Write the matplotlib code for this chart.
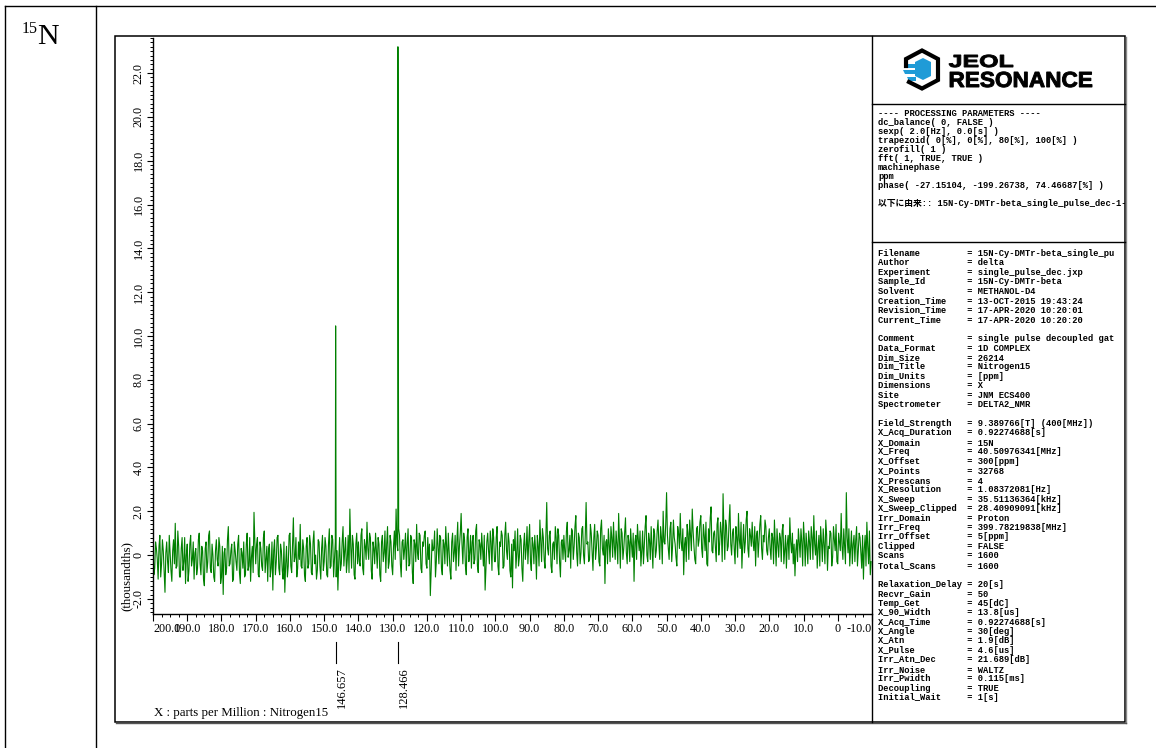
import numpy as np
import matplotlib
matplotlib.use("Agg")
import matplotlib.pyplot as plt
from matplotlib.ticker import MultipleLocator
from matplotlib.textpath import TextPath
from matplotlib.font_manager import FontProperties
from matplotlib.patches import PathPatch, Polygon, Rectangle
from matplotlib.transforms import Affine2D, blended_transform_factory

plt.rcParams['font.family'] = ['Liberation Serif']

W, H = 1156, 748

# %% Spectrum data (intensity in thousandths)
# set A sampled every 0.5 ppm from 200 ppm, set B from 199.75 ppm
noise_start = 200.0
noise_step = 0.5
noise_b_offset = 0.25

noise_a_200_170 = [0.5, -0.6, 0.3, -1.1, 0.9, -0.4, 0.2, -1.7, 0.6, -0.8,
                   0.1, -1.2, 0.7, 1.45, -0.5, 0.4, -1.0, 0.8, -0.3, -1.3,
                   0.5, -0.7, 0.9, -0.2, -1.1, 0.3, -0.6, 1.0, -0.9, 0.2,
                   -1.4, 0.6, -0.3, 1.1, -0.8, 0.0, -1.2, 0.7, -0.5, 0.4,
                   -1.0, -1.8, 0.3, -0.6, 1.3, -0.4, 0.5, -1.1, 0.2, -0.7,
                   0.9, -1.3, 0.1, 0.6, -0.9, 1.0, -0.5, -1.2, 0.4, 1.95]
noise_a_170_140 = [-0.4, 0.8, -1.0, 0.3, -0.7, 1.1, -0.2, -1.2, 0.5, -0.6,
                   -1.6, 0.7, -0.3, 0.9, -0.9, 0.2, -1.1, -1.7, 0.4, -0.5,
                   1.0, -0.8, 1.7, -0.1, -1.0, 0.6, 1.4, -0.6, 0.3, -1.2,
                   0.8, -0.4, 0.5, -0.9, 1.1, 0.0, -0.7, 0.6, -1.1, 0.9,
                   -0.3, 0.4, -1.0, 1.2, -0.5, 0.7, -0.2, -1.0, -1.6, 0.8,
                   -0.4, 1.3, 0.2, -0.8, 0.9, 2.1, -0.6, 0.5, -1.1, 1.0]
noise_a_140_110 = [0.6, -0.5, 1.2, -0.9, 0.4, 1.5, -0.2, 0.8, -1.1, 0.3,
                   1.0, -0.6, 0.5, -1.2, 0.9, 0.1, -0.8, 1.3, -0.3, 0.6,
                   -0.9, 1.1, 2.1, 0.2, 0.9, -1.0, 0.7, 0.3, -0.7, 1.2,
                   -0.4, 0.8, -1.3, 0.5, 1.4, -0.2, 0.9, -0.8, 0.4, 1.1,
                   -0.6, -0.2, -1.85, 0.7, 0.3, -1.0, 1.2, -0.4, 0.8, -0.9,
                   0.5, 1.3, -0.5, 0.2, -1.1, 1.0, 0.1, -0.7, 1.5, 0.4]
noise_a_110_80 = [1.9, -0.4, 0.7, -0.9, 1.2, 0.1, -0.6, 0.9, -0.2, 1.4,
                  -0.8, 0.5, 1.0, -0.5, -1.6, 0.6, 0.2, 1.1, -0.7, 0.8,
                  -0.3, 1.3, -0.9, 0.4, 0.9, -0.5, 1.5, -0.2, 0.6, -1.0,
                  -1.5, 0.2, -0.6, 1.2, -0.1, 0.7, -1.2, 1.0, 0.3, -0.4,
                  1.4, -0.7, 0.5, 0.9, -1.1, 0.4, 1.6, -0.3, 0.8, -0.6,
                  2.4, 0.0, 1.1, -0.8, 0.6, 1.3, -0.4, 0.9, -1.0, 0.7]
noise_a_80_50 = [0.9, -0.3, 1.5, 0.2, -0.6, 1.1, 0.4, 1.8, -0.5, 0.8,
                 0.1, 1.3, -0.4, 2.4, 0.6, -0.2, 1.0, -0.7, 1.4, 0.3,
                 0.9, -0.5, 1.6, 0.0, -1.3, 0.7, 1.2, -0.3, 0.8, 1.5,
                 -0.2, 0.5, 1.9, -0.6, 1.0, 0.3, 1.7, -0.4, 0.6, 1.2,
                 -0.1, -1.2, 0.9, 1.4, 0.2, -0.5, 1.1, 0.4, 1.8, -0.3,
                 0.7, 1.3, -0.6, 1.0, 0.2, 1.6, -0.2, 0.8, 2.0, 0.5]
noise_a_50_20 = [2.85, 0.3, 1.2, -0.3, 1.6, 0.5, -0.5, 1.0, 1.9, 0.2,
                 -0.9, 0.8, 1.4, -0.2, 0.9, 2.1, 0.4, -0.4, 1.3, 0.7,
                 1.8, -0.1, 0.9, 1.5, -0.5, 0.6, 2.2, 0.1, 1.1, -0.3,
                 1.7, 0.5, 1.0, 2.8, -0.2, 1.3, 0.4, 2.3, 0.0, 1.2,
                 -0.4, 0.8, 1.9, 0.3, -0.6, 1.4, 0.6, 2.0, -0.1, 0.9,
                 1.5, 0.2, -0.5, 1.1, 0.7, 1.8, -0.2, 0.6, 1.3, 0.0]
noise_a_20_m10 = [1.2, -0.2, 0.8, 1.6, -0.5, 0.5, 1.0, -0.3, 1.4, 0.2,
                  -0.6, 0.9, 1.7, 0.1, -0.4, -0.95, 0.7, 1.2, -0.1, 0.6,
                  1.5, -0.5, 0.4, 1.1, -0.2, 0.8, 1.8, 0.0, -0.6, 0.9,
                  1.3, -0.3, 0.5, 1.6, -0.7, 0.3, 1.0, -0.1, 0.7, 1.4,
                  -0.4, 0.6, 1.9, -0.2, 0.4, 2.85, 0.1, -0.5, 1.1, 0.5,
                  -0.3, 1.3, 0.2, 0.8, -0.6, -1.1, 0.9, 1.5, -0.4, -0.9]

noise_b_200_170 = [-0.9, 0.6, -0.2, 0.4, -1.0, 0.7, -0.8, 0.1, -0.3, 0.9,
                   -0.7, 0.2, -0.4, -0.6, 1.1, -1.0, 0.3, -0.7, 0.8, 0.0,
                   -1.2, 0.5, -0.5, 0.6, 0.1, -0.9, 0.7, -0.4, 0.4, -1.1,
                   0.3, -0.8, 0.9, -0.6, 0.5, -1.0, 0.2, -0.2, 0.8, -1.3,
                   0.4, 0.1, -0.9, 0.7, -0.5, 0.2, -1.2, 0.6, -0.3, 0.5,
                   -0.8, 0.3, -0.6, -1.0, 0.5, -0.7, 0.8, -0.1, -0.8, 0.6]
noise_b_170_140 = [0.5, -0.9, 0.6, -0.5, 0.8, -0.8, 0.4, 0.3, -1.0, 0.6,
                   0.2, -0.9, 0.8, -0.6, 0.5, -0.7, 0.6, -0.4, -1.0, 0.9,
                   -0.5, 0.4, -0.3, 0.8, -0.6, -0.2, -0.5, 0.7, -0.9, 0.4,
                   -0.6, 0.9, -0.8, 0.6, -0.4, -1.1, 0.7, -0.5, 0.3, -0.7,
                   0.8, -0.9, 0.5, -0.6, 0.9, -1.0, 0.6, 0.2, -0.3, -0.7,
                   0.6, -0.5, 0.8, -0.2, -0.8, 0.4, 0.9, -0.9, 0.5, -0.4]
noise_b_140_110 = [-0.3, 0.9, -0.6, 0.7, -0.2, 0.3, 1.0, -0.7, 0.6, -0.4,
                   0.2, 0.8, -0.9, 0.6, -0.3, 1.1, 0.5, -0.6, 0.9, -0.5,
                   0.4, -0.2, 0.5, 1.2, -0.4, 0.6, -0.2, 1.0, 0.5, -0.5,
                   0.9, -0.8, 0.7, -0.3, 0.1, 1.0, -0.6, 0.6, 0.9, -0.4,
                   0.8, 0.5, -0.7, 0.2, 1.1, -0.3, 0.4, 0.9, -0.6, 0.7,
                   -0.4, 0.4, 1.0, -0.7, 0.6, -0.3, 0.9, 0.6, -0.5, 1.0]
noise_b_110_80 = [0.5, 1.0, -0.5, 0.8, -0.3, 0.9, 0.6, -0.4, 1.1, -0.5,
                  0.7, -0.2, 0.3, 0.9, -0.6, 1.0, -0.4, 0.6, 1.2, -0.3,
                  0.8, -0.5, 0.6, 1.1, -0.6, 0.9, 0.2, 1.0, -0.7, 0.5,
                  0.7, 1.1, 0.1, -0.5, 0.9, -0.6, 0.4, -0.2, 1.3, 0.6,
                  -0.3, 0.8, -0.4, 0.2, 0.9, -0.5, 0.7, 1.2, -0.2, 1.0,
                  0.3, 0.9, -0.5, 0.5, -0.2, 0.8, 1.2, -0.3, 0.6, -0.2]
noise_b_80_50 = [0.2, 1.1, -0.1, 0.9, 1.2, -0.2, 1.3, 0.1, 1.0, -0.4,
                 1.2, 0.0, 0.9, 0.5, -0.3, 1.4, 0.2, 0.8, -0.2, 1.1,
                 -0.3, 1.2, 0.3, 0.9, 0.6, -0.4, 0.5, 1.3, -0.1, 0.4,
                 1.1, -0.4, 0.6, 1.2, -0.2, 1.0, 0.1, 0.9, -0.3, 0.5,
                 1.0, 0.6, -0.2, 0.7, 1.1, 0.2, -0.4, 1.3, 0.0, 1.0,
                 -0.2, 0.4, 1.2, -0.1, 1.1, 0.5, 1.3, -0.4, 0.6, 1.4]
noise_b_50_20 = [0.9, -0.2, 1.5, 0.4, 0.8, -0.1, 1.3, 0.3, 0.6, 1.2,
                 0.5, -0.3, 1.0, 1.6, 0.2, 1.1, -0.2, 1.2, 0.4, 1.5,
                 0.3, 1.4, 0.2, -0.4, 1.2, 1.7, 0.2, 1.0, 0.4, 1.4,
                 0.0, 1.5, -0.3, 1.1, 1.6, 0.2, 1.5, 0.5, 1.0, 0.3,
                 1.3, -0.1, 0.7, 1.5, 0.5, 0.1, 1.6, 0.3, 1.2, 0.4,
                 0.6, 1.3, 0.9, -0.1, 1.4, 0.3, 0.9, 1.6, 0.2, 0.8]
noise_b_20_m10 = [0.3, 1.0, -0.4, 0.6, 1.2, -0.1, 0.8, 1.1, -0.4, 0.9,
                  0.5, -0.2, 0.6, 1.0, 0.5, 0.2, -0.3, 0.6, 1.2, -0.5,
                  0.7, 1.0, -0.4, 0.6, 1.3, -0.2, 0.5, 1.1, 0.3, -0.5,
                  0.6, 1.2, -0.4, 0.9, 0.4, 1.1, -0.5, 1.3, 0.2, -0.3,
                  1.0, 0.2, 0.4, 1.2, -0.4, 0.8, 1.2, 0.3, -0.4, 0.9,
                  0.7, -0.5, 1.0, 0.1, 0.9, 0.3, -0.5, 0.4, 1.1, -0.3]

peak_ppm = [146.657, 128.466]
peak_height = [10.46, 23.2]
peak_labels = ["146.657", "128.466"]

x_ticks = [200, 190, 180, 170, 160, 150, 140, 130, 120, 110, 100,
           90, 80, 70, 60, 50, 40, 30, 20, 10, 0, -10]
y_ticks = [-2, 0, 2, 4, 6, 8, 10, 12, 14, 16, 18, 20, 22]

processing_lines = [
    "---- PROCESSING PARAMETERS ----",
    "dc_balance( 0, FALSE )",
    "sexp( 2.0[Hz], 0.0[s] )",
    "trapezoid( 0[%], 0[%], 80[%], 100[%] )",
    "zerofill( 1 )",
    "fft( 1, TRUE, TRUE )",
    "machinephase",
    "ppm",
    "phase( -27.15104, -199.26738, 74.46687[%] )",
    "",
    "以下に由来:: 15N-Cy-DMTr-beta_single_pulse_dec-1-1.jdf",
]

param_keys = [
    "Filename", "Author", "Experiment", "Sample_Id", "Solvent",
    "Creation_Time", "Revision_Time", "Current_Time", "",
    "Comment", "Data_Format", "Dim_Size", "Dim_Title", "Dim_Units",
    "Dimensions", "Site", "Spectrometer", "",
    "Field_Strength", "X_Acq_Duration", "X_Domain", "X_Freq", "X_Offset",
    "X_Points", "X_Prescans", "X_Resolution", "X_Sweep", "X_Sweep_Clipped",
    "Irr_Domain", "Irr_Freq", "Irr_Offset", "Clipped", "Scans",
    "Total_Scans", "",
    "Relaxation_Delay", "Recvr_Gain", "Temp_Get", "X_90_Width",
    "X_Acq_Time", "X_Angle", "X_Atn", "X_Pulse", "Irr_Atn_Dec",
    "Irr_Noise", "Irr_Pwidth", "Decoupling", "Initial_Wait",
]
param_values = [
    "15N-Cy-DMTr-beta_single_pu", "delta",
    "single_pulse_dec.jxp", "15N-Cy-DMTr-beta", "METHANOL-D4",
    "13-OCT-2015 19:43:24", "17-APR-2020 10:20:01", "17-APR-2020 10:20:20", "",
    "single pulse decoupled gat", "1D COMPLEX", "26214", "Nitrogen15",
    "[ppm]", "X", "JNM ECS400", "DELTA2_NMR", "",
    "9.389766[T] (400[MHz])", "0.92274688[s]", "15N", "40.50976341[MHz]",
    "300[ppm]", "32768", "4", "1.08372081[Hz]", "35.51136364[kHz]",
    "28.40909091[kHz]", "Proton", "399.78219838[MHz]", "5[ppm]", "FALSE",
    "1600", "1600", "",
    "20[s]", "50", "45[dC]", "13.8[us]", "0.92274688[s]", "30[deg]",
    "1.9[dB]", "4.6[us]", "21.689[dB]", "WALTZ", "0.115[ms]", "TRUE", "1[s]",
]

# %% Build spectrum
noise_a = np.concatenate([noise_a_200_170, noise_a_170_140, noise_a_140_110,
                          noise_a_110_80, noise_a_80_50, noise_a_50_20,
                          noise_a_20_m10])
noise_b = np.concatenate([noise_b_200_170, noise_b_170_140, noise_b_140_110,
                          noise_b_110_80, noise_b_80_50, noise_b_50_20,
                          noise_b_20_m10])
ppm_a = noise_start - noise_step * np.arange(len(noise_a))
ppm_b = noise_start - noise_b_offset - noise_step * np.arange(len(noise_b))
ppm = np.concatenate([ppm_a, ppm_b, peak_ppm])
intensity = np.concatenate([noise_a, noise_b, peak_height])
order = np.argsort(-ppm)
ppm, intensity = ppm[order], intensity[order]

fig = plt.figure(figsize=(W / 100, H / 100), dpi=100)


def px_axes(x0, y0, x1, y1):
    return fig.add_axes([x0 / W, 1 - y1 / H, (x1 - x0) / W, (y1 - y0) / H])


# background in pixel coordinates: page table, frame, separators
bg = px_axes(0, 0, W, H)
bg.set_xlim(0, W)
bg.set_ylim(H, 0)
bg.axis('off')
lw = 1.0
bg.plot([5, W], [6, 6], color='black', lw=lw, clip_on=False)
bg.plot([5, 5], [6, H], color='black', lw=lw, clip_on=False)
bg.plot([96, 96], [6, H], color='black', lw=lw, clip_on=False)
bg.add_patch(Rectangle((115, 36), 1010, 686, fill=False, ec='black', lw=1.1))
bg.plot([1126, 1126], [37, 723], color='#8a8a8a', lw=1.0)
bg.plot([116, 1126], [723, 723], color='#555555', lw=1.0)
bg.plot([872, 872], [36, 722], color='black', lw=1.0)
bg.plot([872, 1125], [104, 104], color='black', lw=1.0)
bg.plot([872, 1125], [242, 242], color='black', lw=1.0)

bg.text(22, 33, "15", fontsize=11.5, ha='left', va='baseline')
bg.text(37.5, 43.5, "N", fontsize=21.5, ha='left', va='baseline')
bg.text(154, 713, "X : parts per Million : Nitrogen15", fontsize=9.3,
        ha='left', va='center')
bg.text(127, 576, "(thousandths)", fontsize=9.3, rotation=90,
        ha='center', va='center')

# %% Spectrum axes
ax = px_axes(153, 38, 872, 614)
ax.patch.set_alpha(0)
ax.plot(ppm, intensity, color='#008000', lw=0.8)
ax.set_xlim(200, -10)
ax.set_ylim(-2.69, 23.6)
for side in ('top', 'right'):
    ax.spines[side].set_visible(False)
for side in ('left', 'bottom'):
    ax.spines[side].set_linewidth(1.0)

ax.set_xticks(x_ticks)
xlabels = ax.set_xticklabels(["0" if t == 0 else f"{t:.1f}" for t in x_ticks])
xlabels[0].set_horizontalalignment('left')
xlabels[-1].set_horizontalalignment('right')
ax.xaxis.set_minor_locator(MultipleLocator(2.5))

ax.set_yticks(y_ticks)
ylabels = ax.set_yticklabels(["0" if t == 0 else f"{t:.1f}" for t in y_ticks],
                             rotation=90)
for lbl in ylabels:
    lbl.set_verticalalignment('center')
ax.yaxis.set_minor_locator(MultipleLocator(0.2))

ax.tick_params(which='major', direction='out', length=4, width=0.8,
               labelsize=8.7)
ax.tick_params(which='minor', direction='out', length=2, width=0.7)
ax.tick_params(axis='x', which='major', length=5, pad=1.5)
ax.tick_params(axis='y', which='major', pad=2)

# peak annotations below the axis
trans = blended_transform_factory(ax.transData, bg.transData)
for p, lab in zip(peak_ppm, peak_labels):
    ax.plot([p, p], [642, 663], color='black', lw=0.8, transform=trans,
            clip_on=False)
    ax.text(p, 667, lab, transform=trans, rotation=90, ha='left', va='top',
            fontsize=9, clip_on=False)

# %% Info panel
info = px_axes(872, 36, 1125, 722)
info.set_xlim(872, 1125)
info.set_ylim(722, 36)
info.axis('off')
mono = ['Liberation Mono', 'Noto Sans CJK JP']

for i, line in enumerate(processing_lines):
    info.text(878, 113.3 + 9.0 * i, line, family=mono, fontsize=6.3,
              fontweight='bold', ha='left', va='center', clip_on=True)

for i, (k, v) in enumerate(zip(param_keys, param_values)):
    if not k:
        continue
    info.text(878, 253.3 + 9.455 * i, f"{k:<17}= {v}", family=mono,
              fontsize=6.3, fontweight='bold', ha='left', va='center',
              clip_on=True)


def logo_text(s, x0, x1, ytop, ybase):
    prop = FontProperties(family='Liberation Sans', weight='bold')
    tp = TextPath((0, 0), s, size=10, prop=prop)
    cap = TextPath((0, 0), "E", size=10, prop=prop).get_extents().height
    bb = tp.get_extents()
    tr = (Affine2D().translate(-bb.x0, 0)
          .scale((x1 - x0) / bb.width, -(ybase - ytop) / cap)
          .translate(x0, ybase))
    info.add_patch(PathPatch(tr.transform_path(tp), fc='black', ec='black',
                             lw=0.7))


logo_text("JEOL", 949, 1013, 55, 67)
logo_text("RESONANCE", 950, 1092, 72, 87)

# logo icon
info.plot([906, 906, 922, 938, 938, 922, 909],
          [66, 59, 50.5, 59, 80, 88.5, 82],
          color='black', lw=3.0, solid_joinstyle='miter')
blue = '#1f9bd7'
info.add_patch(Polygon([(915, 62), (923, 58), (931, 62), (931, 76),
                        (923, 80), (915, 76)], fc=blue, ec='none'))
info.add_patch(Polygon([(905, 63.5), (916, 63.5), (916, 67.5), (907, 67.5)],
                       fc=blue, ec='none'))
info.add_patch(Polygon([(903, 70), (916, 70), (916, 74), (905, 74)],
                       fc=blue, ec='none'))
info.add_patch(Polygon([(907, 76.5), (916, 76.5), (916, 80.5), (909, 80.5)],
                       fc=blue, ec='none'))

fig.savefig("out.png", dpi=100)
